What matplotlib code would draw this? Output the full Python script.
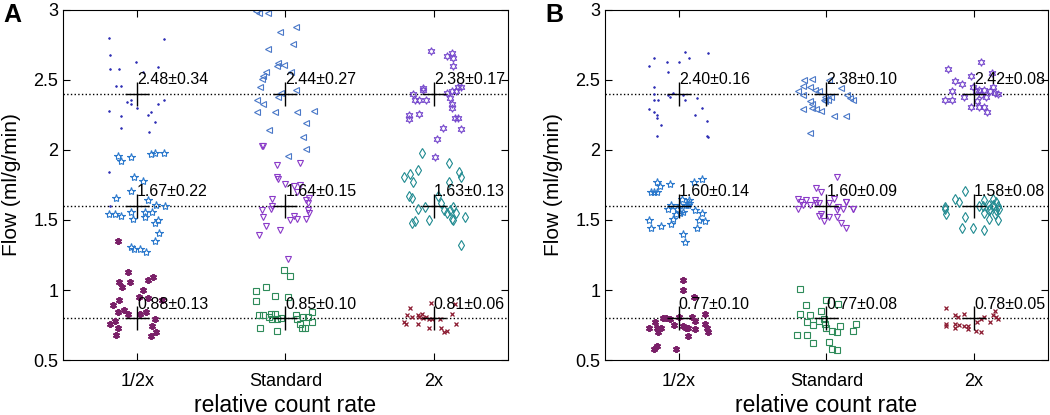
import matplotlib
matplotlib.use("Agg")
import matplotlib.pyplot as plt

plt.rcParams['font.family'] = ['Liberation Sans', 'DejaVu Sans']

# categorias y niveles de flujo
categorias = ["1/2x", "Standard", "2x"]
niveles = [0.8, 1.6, 2.4]

# ---------------- Panel A ----------------
a_half_hi_x = [0.81, 1.18, 0.82, 0.99, 0.82, 0.88, 1.14, 1.04, 0.86, 0.89, 0.96, 0.93, 0.96, 1.18, 1.14, 1.00, 0.81, 1.09, 1.07, 0.89, 1.12, 0.89, 1.08, 0.81, 0.82]
a_half_hi_y = [2.80, 2.79, 2.68, 2.63, 2.58, 2.58, 2.59, 2.56, 2.46, 2.46, 2.36, 2.34, 2.33, 2.36, 2.33, 2.30, 2.28, 2.27, 2.25, 2.24, 2.20, 2.16, 2.13, 1.84, 1.60]
a_half_mid_x = [0.87, 0.89, 0.96, 1.09, 1.12, 1.18, 0.98, 1.04, 0.96, 0.86, 1.07, 1.13, 1.19, 0.81, 0.85, 0.89, 0.96, 0.97, 1.05, 1.10, 1.05, 1.12, 1.14, 1.15, 1.12, 0.96, 0.98, 1.02, 1.06]
a_half_mid_y = [1.96, 1.92, 1.95, 1.97, 1.98, 1.98, 1.81, 1.78, 1.71, 1.66, 1.64, 1.61, 1.60, 1.54, 1.54, 1.53, 1.56, 1.51, 1.56, 1.56, 1.52, 1.48, 1.50, 1.41, 1.35, 1.31, 1.29, 1.29, 1.27]
a_half_lo_x = [0.87, 0.94, 0.88, 0.90, 0.95, 1.07, 1.11, 1.04, 0.88, 1.01, 1.07, 1.17, 0.84, 0.91, 0.87, 0.94, 1.06, 1.02, 0.85, 1.12, 0.82, 0.87, 1.10, 1.13, 0.86, 1.09]
a_half_lo_y = [1.35, 1.13, 1.06, 1.02, 1.06, 1.07, 1.09, 1.00, 0.93, 0.95, 0.94, 0.93, 0.89, 0.86, 0.84, 0.83, 0.84, 0.83, 0.78, 0.79, 0.76, 0.73, 0.74, 0.70, 0.68, 0.67]

a_std_hi_x = [1.80, 1.82, 1.88, 2.07, 1.96, 2.05, 1.88, 1.95, 1.99, 1.94, 1.87, 2.04, 1.84, 1.85, 1.83, 2.07, 1.97, 1.95, 1.81, 1.85, 1.81, 1.93, 2.08, 2.19, 2.14, 1.89, 2.12, 2.14, 2.02]
a_std_hi_y = [2.99, 2.98, 2.98, 2.88, 2.84, 2.76, 2.72, 2.62, 2.61, 2.60, 2.56, 2.56, 2.51, 2.53, 2.45, 2.43, 2.41, 2.38, 2.36, 2.33, 2.27, 2.27, 2.27, 2.28, 2.19, 2.14, 2.09, 2.01, 1.96]
a_std_mid_x = [1.84, 1.85, 1.94, 2.10, 1.94, 1.95, 2.00, 2.06, 2.10, 2.08, 1.91, 2.14, 2.16, 1.84, 1.90, 1.85, 1.91, 2.03, 2.06, 2.08, 2.14, 2.15, 2.16, 2.15, 1.87, 1.96, 1.82, 2.02]
a_std_mid_y = [2.03, 2.03, 1.89, 1.91, 1.81, 1.79, 1.76, 1.74, 1.75, 1.70, 1.65, 1.64, 1.66, 1.57, 1.58, 1.52, 1.60, 1.50, 1.53, 1.51, 1.51, 1.57, 1.55, 1.62, 1.46, 1.43, 1.39, 1.22]
a_std_lo_x = [1.99, 2.03, 1.87, 1.80, 1.93, 1.80, 2.02, 1.82, 1.85, 1.90, 1.93, 1.89, 1.91, 1.94, 1.97, 2.07, 2.08, 2.10, 2.12, 2.15, 2.18, 2.18, 1.83, 1.94, 2.11, 2.13]
a_std_lo_y = [1.14, 1.10, 1.02, 0.99, 0.96, 0.92, 0.95, 0.82, 0.82, 0.83, 0.83, 0.81, 0.79, 0.79, 0.80, 0.82, 0.79, 0.76, 0.81, 0.81, 0.84, 0.77, 0.73, 0.71, 0.73, 0.73]

a_2x_hi_x = [2.98, 3.09, 3.12, 3.13, 3.13, 2.93, 2.93, 2.86, 2.87, 2.90, 2.95, 3.09, 3.12, 3.15, 3.18, 3.16, 3.11, 3.12, 3.12, 2.83, 2.83, 2.90, 3.14, 3.16, 3.06, 3.18, 3.02, 3.01]
a_2x_hi_y = [2.71, 2.67, 2.69, 2.66, 2.60, 2.44, 2.43, 2.40, 2.36, 2.36, 2.36, 2.41, 2.42, 2.42, 2.45, 2.45, 2.37, 2.33, 2.30, 2.25, 2.22, 2.26, 2.23, 2.23, 2.16, 2.15, 2.08, 1.95]
a_2x_mid_x = [2.92, 3.10, 2.89, 2.80, 2.84, 2.86, 3.17, 3.18, 3.10, 2.83, 2.85, 3.03, 2.89, 2.94, 3.05, 3.07, 3.09, 3.11, 3.13, 3.15, 3.12, 3.13, 3.21, 2.97, 2.85, 2.87, 3.18]
a_2x_mid_y = [1.98, 1.91, 1.86, 1.81, 1.83, 1.77, 1.84, 1.81, 1.77, 1.67, 1.66, 1.67, 1.58, 1.59, 1.62, 1.57, 1.55, 1.57, 1.59, 1.55, 1.51, 1.50, 1.52, 1.50, 1.48, 1.49, 1.32]
a_2x_lo_x = [2.84, 2.82, 2.80, 2.81, 2.85, 2.89, 2.90, 2.92, 2.93, 2.95, 2.98, 2.97, 2.99, 2.97, 3.05, 3.07, 3.09, 3.04, 3.12, 3.15, 3.14, 2.89]
a_2x_lo_y = [0.87, 0.82, 0.77, 0.76, 0.81, 0.82, 0.81, 0.83, 0.80, 0.81, 0.91, 0.79, 0.79, 0.73, 0.73, 0.70, 0.71, 0.79, 0.83, 0.76, 0.90, 0.76]

a_textos = [["0.88±0.13", "1.67±0.22", "2.48±0.34"],
            ["0.85±0.10", "1.64±0.15", "2.44±0.27"],
            ["0.81±0.06", "1.63±0.13", "2.38±0.17"]]

# ---------------- Panel B ----------------
b_half_hi_x = [0.83, 0.80, 1.04, 1.07, 1.20, 0.92, 1.00, 0.93, 0.83, 0.83, 0.80, 0.83, 0.86, 0.93, 0.96, 0.94, 1.03, 1.04, 1.12, 0.83, 0.85, 0.85, 0.88, 1.16, 1.11, 1.19, 0.85, 1.19, 1.20]
b_half_hi_y = [2.66, 2.60, 2.70, 2.66, 2.69, 2.63, 2.63, 2.56, 2.45, 2.40, 2.29, 2.36, 2.36, 2.39, 2.41, 2.38, 2.39, 2.36, 2.37, 2.27, 2.25, 2.23, 2.18, 2.30, 2.25, 2.21, 2.10, 2.10, 2.09]
b_half_mid_x = [0.85, 0.87, 0.85, 0.81, 0.83, 0.94, 1.10, 1.16, 1.02, 1.07, 0.95, 1.01, 1.06, 0.93, 1.01, 1.03, 0.99, 1.05, 1.07, 1.11, 1.16, 0.96, 0.98, 0.95, 0.80, 0.81, 0.88, 1.14, 1.18, 1.12, 1.03, 1.04]
b_half_mid_y = [1.77, 1.74, 1.70, 1.70, 1.70, 1.76, 1.77, 1.79, 1.65, 1.64, 1.61, 1.61, 1.61, 1.58, 1.55, 1.56, 1.58, 1.61, 1.62, 1.57, 1.55, 1.51, 1.54, 1.47, 1.50, 1.44, 1.46, 1.50, 1.49, 1.44, 1.40, 1.34]
b_half_lo_x = [1.03, 1.03, 1.10, 1.18, 0.84, 0.80, 0.85, 0.86, 0.88, 0.89, 0.91, 0.94, 0.97, 1.00, 1.03, 1.05, 1.06, 1.09, 1.11, 1.11, 1.18, 1.19, 1.20, 1.06, 0.83, 0.85, 0.98]
b_half_lo_y = [1.07, 1.00, 0.95, 0.83, 0.77, 0.73, 0.73, 0.70, 0.73, 0.80, 0.80, 0.79, 0.75, 0.81, 0.74, 0.73, 0.73, 0.81, 0.78, 0.72, 0.76, 0.73, 0.70, 0.67, 0.58, 0.60, 0.58]

b_std_hi_x = [1.85, 1.90, 1.84, 1.89, 1.81, 1.84, 1.92, 1.95, 2.02, 2.10, 2.03, 1.99, 1.98, 2.01, 1.99, 2.14, 2.18, 2.16, 1.89, 1.90, 1.90, 1.96, 1.84, 1.93, 2.05, 2.13, 1.89]
b_std_hi_y = [2.50, 2.51, 2.46, 2.45, 2.42, 2.39, 2.43, 2.42, 2.50, 2.44, 2.38, 2.38, 2.36, 2.36, 2.35, 2.39, 2.36, 2.37, 2.35, 2.33, 2.30, 2.28, 2.29, 2.29, 2.24, 2.24, 2.12]
b_std_mid_x = [2.07, 1.93, 1.96, 2.13, 1.81, 1.83, 1.86, 1.92, 1.95, 2.02, 2.05, 2.18, 2.08, 2.11, 1.81, 1.84, 1.89, 1.93, 1.96, 1.95, 1.98, 2.02, 2.07, 2.07, 2.10, 2.13, 2.18, 2.13]
b_std_mid_y = [1.81, 1.73, 1.70, 1.63, 1.65, 1.63, 1.64, 1.64, 1.62, 1.62, 1.65, 1.58, 1.59, 1.58, 1.58, 1.61, 1.61, 1.62, 1.54, 1.53, 1.49, 1.52, 1.57, 1.52, 1.48, 1.44, 1.58, 1.63]
b_std_lo_x = [1.82, 1.86, 2.00, 2.08, 1.96, 1.82, 1.89, 1.87, 1.91, 1.95, 1.98, 1.99, 2.00, 2.04, 2.07, 2.09, 2.18, 2.20, 1.80, 1.87, 1.91, 2.02, 2.04, 2.07]
b_std_lo_y = [1.01, 0.89, 0.93, 0.90, 0.85, 0.83, 0.82, 0.77, 0.75, 0.78, 0.79, 0.76, 0.73, 0.71, 0.70, 0.74, 0.71, 0.76, 0.68, 0.68, 0.62, 0.63, 0.58, 0.57]

b_2x_hi_x = [3.05, 2.82, 3.12, 2.87, 2.92, 2.98, 2.99, 2.85, 2.80, 2.85, 2.93, 2.98, 3.03, 3.07, 3.09, 3.02, 3.05, 3.08, 3.11, 3.14, 3.16, 3.13, 3.01, 3.03, 3.07]
b_2x_hi_y = [2.63, 2.58, 2.55, 2.49, 2.47, 2.53, 2.45, 2.42, 2.36, 2.36, 2.38, 2.31, 2.31, 2.31, 2.27, 2.35, 2.39, 2.38, 2.42, 2.41, 2.40, 2.45, 2.42, 2.43, 2.43]
b_2x_mid_x = [2.94, 2.87, 2.90, 2.80, 3.07, 3.10, 3.13, 3.15, 3.16, 3.11, 3.03, 2.80, 2.81, 2.94, 2.92, 2.99, 3.07, 3.07, 3.10, 3.10, 3.13, 3.14, 3.15, 3.16, 3.17, 3.06]
b_2x_mid_y = [1.71, 1.65, 1.63, 1.59, 1.64, 1.61, 1.65, 1.63, 1.60, 1.58, 1.60, 1.58, 1.54, 1.52, 1.44, 1.44, 1.43, 1.55, 1.57, 1.51, 1.61, 1.54, 1.57, 1.50, 1.58, 1.60]
b_2x_lo_x = [2.81, 2.87, 2.89, 2.93, 2.81, 2.81, 2.87, 2.87, 2.90, 2.93, 2.96, 2.96, 3.01, 3.05, 3.02, 3.05, 3.07, 3.11, 3.14, 3.15, 3.16, 3.13]
b_2x_lo_y = [0.87, 0.82, 0.81, 0.83, 0.76, 0.74, 0.76, 0.73, 0.75, 0.74, 0.74, 0.72, 0.71, 0.70, 0.77, 0.79, 0.81, 0.77, 0.85, 0.81, 0.79, 0.82]

b_textos = [["0.77±0.10", "1.60±0.14", "2.40±0.16"],
            ["0.77±0.08", "1.60±0.09", "2.38±0.10"],
            ["0.78±0.05", "1.58±0.08", "2.42±0.08"]]

# estilos de marcador
estilos = {
    "half_hi": dict(marker=".", color="#2f2fb5", ms=2.5, mew=0.5),
    "half_mid": dict(marker="*", color="#2a78cc", ms=6, mew=0.8, mfc="none"),
    "half_lo": dict(marker=(6, 2, 0), color="#7a2068", ms=5, mew=1.4),
    "std_hi": dict(marker="<", color="#4a78c8", ms=4.5, mew=0.8, mfc="none"),
    "std_mid": dict(marker="v", color="#8a3ac8", ms=5, mew=0.8, mfc="none"),
    "std_lo": dict(marker="s", color="#2e8b5a", ms=4, mew=0.8, mfc="none"),
    "2x_hi": dict(marker=(6, 1, 0), color="#7446cc", ms=5.5, mew=0.8, mfc="none"),
    "2x_mid": dict(marker="d", color="#1f8a90", ms=5.5, mew=0.8, mfc="none"),
    "2x_lo": dict(marker="x", color="#8b1a30", ms=3.5, mew=0.9),
}

paneles = [
    ("A", [(a_half_hi_x, a_half_hi_y, "half_hi"), (a_half_mid_x, a_half_mid_y, "half_mid"), (a_half_lo_x, a_half_lo_y, "half_lo"),
           (a_std_hi_x, a_std_hi_y, "std_hi"), (a_std_mid_x, a_std_mid_y, "std_mid"), (a_std_lo_x, a_std_lo_y, "std_lo"),
           (a_2x_hi_x, a_2x_hi_y, "2x_hi"), (a_2x_mid_x, a_2x_mid_y, "2x_mid"), (a_2x_lo_x, a_2x_lo_y, "2x_lo")], a_textos),
    ("B", [(b_half_hi_x, b_half_hi_y, "half_hi"), (b_half_mid_x, b_half_mid_y, "half_mid"), (b_half_lo_x, b_half_lo_y, "half_lo"),
           (b_std_hi_x, b_std_hi_y, "std_hi"), (b_std_mid_x, b_std_mid_y, "std_mid"), (b_std_lo_x, b_std_lo_y, "std_lo"),
           (b_2x_hi_x, b_2x_hi_y, "2x_hi"), (b_2x_mid_x, b_2x_mid_y, "2x_mid"), (b_2x_lo_x, b_2x_lo_y, "2x_lo")], b_textos),
]

fig = plt.figure(figsize=(10.5, 4.15), dpi=100)
posiciones = [[0.060, 0.1325, 0.4238, 0.8435], [0.5762, 0.1325, 0.4218, 0.8435]]

for (letra, series, textos), pos in zip(paneles, posiciones):
    ax = fig.add_axes(pos)
    for nivel in niveles:
        ax.axhline(nivel, color="black", ls=":", lw=1, zorder=1)
    for xs, ys, clave in series:
        ax.plot(xs, ys, ls="none", zorder=2, **estilos[clave])
    for i in range(3):
        for j, nivel in enumerate(niveles):
            ax.plot(i + 1, nivel, marker="+", color="black", ms=17, mew=1, zorder=3)
            ax.text(i + 1, nivel + 0.1, textos[i][j], fontsize=11.5, ha="left", va="center", zorder=4)
    ax.set_xlim(0.5, 3.5)
    ax.set_ylim(0.5, 3)
    ax.set_xticks([1, 2, 3])
    ax.set_xticklabels(categorias)
    ax.set_yticks([0.5, 1, 1.5, 2, 2.5, 3])
    ax.set_yticklabels(["0.5", "1", "1.5", "2", "2.5", "3"])
    ax.tick_params(direction="in", top=True, right=True, labelsize=13, length=5, width=0.8)
    ax.tick_params(axis="x", pad=9)
    for s in ax.spines.values():
        s.set_linewidth(0.8)
    ax.set_ylabel("Flow (ml/g/min)", fontsize=15)
    ax.set_xlabel("relative count rate", fontsize=16.5)
    ax.yaxis.set_label_coords(-0.095, 0.5)
    ax.xaxis.set_label_coords(0.5, -0.096)
    fig.text(pos[0] - 0.048, 0.965, letra, fontsize=18, fontweight="bold", ha="center", va="center")

plt.savefig("out.png", dpi=100)
